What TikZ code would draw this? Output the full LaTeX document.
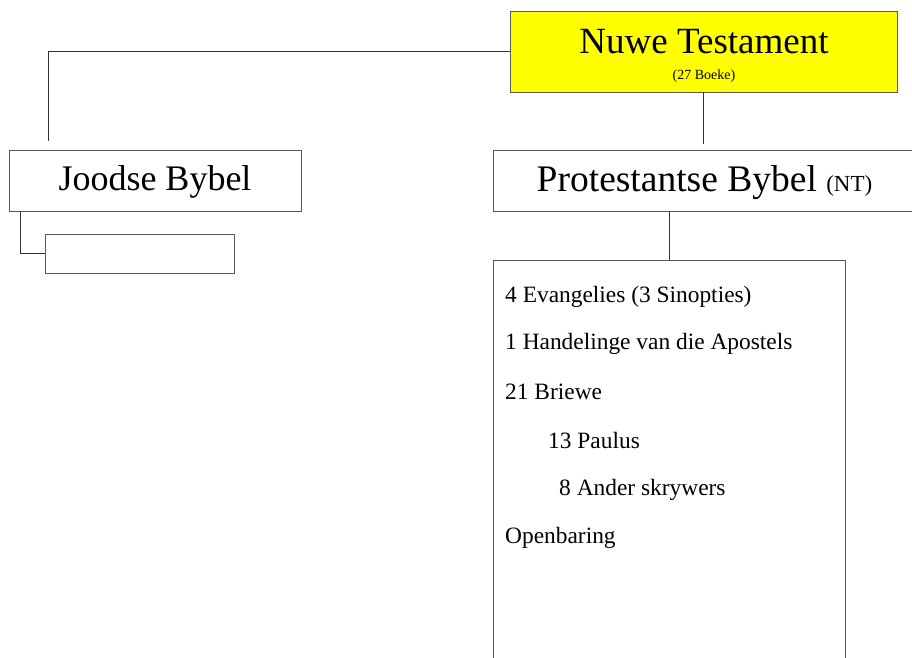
\documentclass[tikz,border=0pt]{standalone}
\usepackage{fontspec}
\setmainfont{Liberation Serif}
\definecolor{ntyellow}{RGB}{255,255,0}
\begin{document}
\begin{tikzpicture}[x=1pt,y=-1pt,
  box/.style={draw=black!65, line width=1pt, inner sep=0pt, outer sep=0pt},
  conn/.style={draw=black!80, line width=0.9pt},
  lst/.style={anchor=west, inner sep=0pt, font=\fontsize{23.4}{25}\selectfont}]
\useasboundingbox (0,0) rectangle (912,657);
% boxes
\node[box, fill=ntyellow, minimum width=387pt, minimum height=81pt] (nt) at (703.5,51.5) {};
\node[font=\fontsize{37}{40}\selectfont, inner sep=0pt] (ntt) at (704,42) {Nuwe Testament};
\node[font=\fontsize{14}{15}\selectfont, inner sep=0pt] (ntb) at (704,76) {(27 Boeke)};
\node[box, minimum width=292pt, minimum height=61pt] (jb) at (155,180.5) {};
\node[inner sep=0pt, font=\fontsize{36}{38}\selectfont] (jbt) at (155,182) {Joodse Bybel};
\node[box, minimum width=189pt, minimum height=39pt] (sb) at (139.5,253.5) {};
\node[box, minimum width=430pt, minimum height=61pt] (pb) at (708,180.5) {};
\node[inner sep=0pt, font=\fontsize{37.5}{40}\selectfont] (pbt) at (704.5,183) {Protestantse Bybel {\fontsize{23}{25}\selectfont(NT)}};
\node[box, minimum width=352pt, minimum height=420pt] (lb) at (669,470) {};
% list
\node[lst] (l1) at (505,297) {4 Evangelies (3 Sinopties)};
\node[lst] (l2) at (505,344) {1 Handelinge van die Apostels};
\node[lst] (l3) at (505,392) {21 Briewe};
\node[lst] (l4) at (548,440) {13 Paulus};
\node[lst] (l5) at (559,490) {8 Ander skrywers};
\node[lst] (l6) at (505,538) {Openbaring};
% connectors
\coordinate (jtop) at (48,141);
\coordinate (ptop) at (703.5,144);
\draw[conn] (nt.west) -| (jtop);
\draw[conn] (nt.south) -- (ptop);
\draw[conn] (jb.south west) ++(11,0) |- (sb.west);
\draw[conn] (pb.south -| lb.north) -- (lb.north);
\end{tikzpicture}
\end{document}
